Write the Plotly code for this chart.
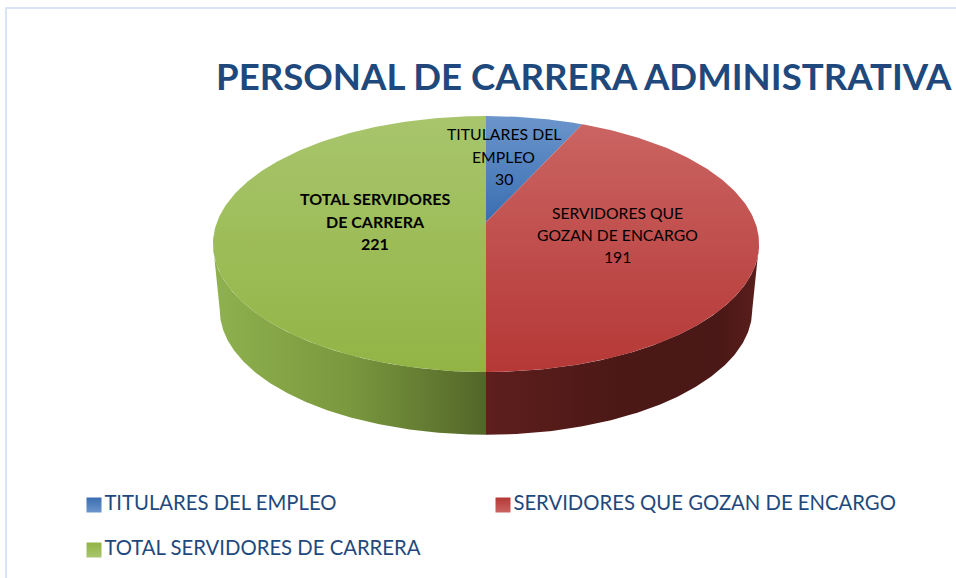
import numpy as np
import plotly.graph_objects as go

categories = ["TITULARES DEL EMPLEO", "SERVIDORES QUE GOZAN DE ENCARGO", "TOTAL SERVIDORES DE CARRERA"]
values = [30, 191, 221]
slice_lines = [["TITULARES DEL", "EMPLEO", "30"],
               ["SERVIDORES QUE", "GOZAN DE ENCARGO", "191"],
               ["<b>TOTAL SERVIDORES</b>", "<b>DE CARRERA</b>", "<b>221</b>"]]
title_text = "PERSONAL DE CARRERA ADMINISTRATIVA"

top_grad = [("#6b95cb", "#3a6eb1"), ("#ca6462", "#b53836"), ("#a8c56c", "#92b445")]
wall_grad = [
    None,
    [[0, "#5e1f1d"], [0.5, "#4b1816"], [0.85, "#4a1816"], [1, "#5a1e1c"]],
    [[0, "#8fb14e"], [0.5, "#7a983e"], [1, "#526628"]],
]
label_pos = [(503.5, 156), (617.5, 235), (375, 221)]
legend_pos = [(94, 505), (503, 505), (94, 550)]

# perspective projection of the pie disc onto the page
CX, APEX_Y, R, K, B = 486, 222, 269, 0.172, -86
DEPTH_CY, SCALE, MID_Y = 310, 0.975, 244


def top(theta):
    u, v = np.sin(theta), np.cos(theta)
    w = 1 + K * v
    return CX + R * u / w, (APEX_Y + B * v) / w


def bottom(theta):
    x, y = top(theta)
    return CX + SCALE * (x - CX), DEPTH_CY + SCALE * (y - MID_Y)


fig = go.Figure()
fractions = np.cumsum([0] + values) / sum(values)
starts, ends = fractions[:-1] * 2 * np.pi, fractions[1:] * 2 * np.pi
widest_r = np.arccos(-K)
widest_l = 2 * np.pi - widest_r

# side walls
for i, (a, b) in enumerate(zip(starts, ends)):
    lo, hi = max(a, widest_r), min(b, widest_l)
    if hi <= lo or wall_grad[i] is None:
        continue
    t = np.linspace(lo, hi, 160)
    xt, yt = top(t)
    xb, yb = bottom(t[::-1])
    fig.add_trace(go.Scatter(
        x=np.r_[xt, xb], y=np.r_[yt, yb], mode="lines", line=dict(width=0),
        fill="toself", fillgradient=dict(type="horizontal", colorscale=wall_grad[i]),
        showlegend=False, hoverinfo="skip"))

# top faces (axis is reversed, so the colour scale runs bottom to top)
for i, (a, b) in enumerate(zip(starts, ends)):
    t = np.linspace(a, b, 200)
    xt, yt = top(t)
    fig.add_trace(go.Scatter(
        x=np.r_[CX, xt, CX], y=np.r_[APEX_Y, yt, APEX_Y], mode="lines", line=dict(width=0),
        fill="toself",
        fillgradient=dict(type="vertical", colorscale=[[0, top_grad[i][1]], [1, top_grad[i][0]]]),
        name=categories[i], showlegend=False, hovertemplate="%{fullData.name}<extra></extra>"))

# legend keys
for i, name in enumerate(categories):
    fig.add_trace(go.Scatter(
        x=[legend_pos[i][0]], y=[legend_pos[i][1]], mode="markers+text", name=name,
        text=[name], textposition="middle right",
        textfont=dict(family="Lato", size=20.3, color="#1f497d"),
        marker=dict(symbol="square", size=15, color=top_grad[i][1], line=dict(width=0),
                    gradient=dict(type="vertical", color=top_grad[i][0])),
        showlegend=False, cliponaxis=False, hovertemplate="%{text}<extra></extra>"))

# slice labels, one text per line for the reference's line spacing
for lines, (x, y), size in zip(slice_lines, label_pos, [15.8, 15.7, 16]):
    for j, line in enumerate(lines):
        fig.add_annotation(x=x, y=y + (j - 1) * 22.3, text=line, showarrow=False,
                           xref="x", yref="y", yanchor="middle",
                           font=dict(family="Lato", size=size, color="#000000"))

fig.add_annotation(x=214, y=76, text=f"<b>{title_text}</b>", showarrow=False, xref="x", yref="y",
                   xanchor="left", yanchor="middle",
                   font=dict(family="Lato", size=36.6, color="#1f497d"))

fig.update_layout(
    width=956, height=578, margin=dict(l=0, r=0, t=0, b=0),
    paper_bgcolor="white", plot_bgcolor="white",
    xaxis=dict(range=[0, 956], visible=False, fixedrange=True),
    yaxis=dict(range=[578, 0], visible=False, fixedrange=True),
    shapes=[dict(type="path", path="M 6 578 L 6 8 L 956 8", xref="x", yref="y",
                 line=dict(color="#d6e4f5", width=2))],
    showlegend=False,
)

fig.write_html("out.html", config={"displayModeBar": False},
               post_script="document.body.style.margin='0';")
